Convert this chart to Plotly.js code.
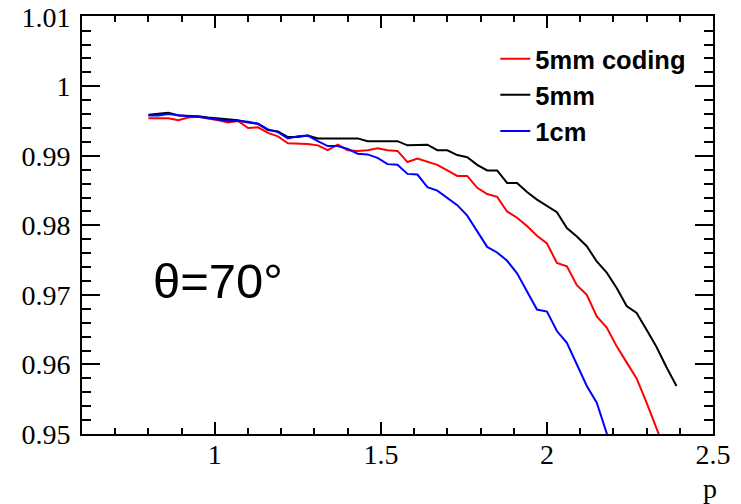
<!DOCTYPE html>
<html>
<head>
<meta charset="utf-8">
<script src="https://cdn.plot.ly/plotly-3.0.1.min.js"></script>
<style>html,body{margin:0;padding:0;background:#fff;}#chart{width:741px;height:504px;}</style>
</head>
<body>
<div id="chart"></div>
<script>
const p = [0.80,0.83,0.86,0.89,0.92,0.95,0.98,1.01,1.04,1.07,1.10,1.13,1.16,1.19,1.22,1.25,1.28,1.31,1.34,1.37,1.40,1.43,1.46,1.49,1.52,1.55,1.58,1.61,1.64,1.67,1.70,1.73,1.76,1.79,1.82,1.85,1.88,1.91,1.94,1.97,2.00,2.03,2.06,2.09,2.12,2.15,2.18,2.21,2.24,2.27,2.30,2.33,2.36,2.39];

const eff5mmCoding = [0.9954,0.9954,0.9954,0.9951,0.9955,0.9956,0.9954,0.9951,0.9948,0.9950,
  0.9940,0.9941,0.9933,0.9928,0.9918,0.9918,0.9917,0.9915,0.9908,0.9916,
  0.9908,0.9907,0.9908,0.9911,0.9908,0.9907,0.9891,0.9896,0.9891,0.9887,
  0.9879,0.9871,0.9871,0.9854,0.9845,0.9841,0.9820,0.9811,0.9799,0.9785,
  0.9774,0.9746,0.9741,0.9714,0.9700,0.9669,0.9653,0.9626,0.9603,0.9580,
  0.9545,0.9506,0.9471,0.9436];

const eff5mm = [0.9959,0.9960,0.9962,0.9958,0.9958,0.9957,0.9955,0.9954,0.9953,0.9951,
  0.9948,0.9946,0.9937,0.9935,0.9927,0.9927,0.9929,0.9925,0.9925,0.9925,
  0.9926,0.9925,0.9921,0.9921,0.9921,0.9921,0.9915,0.9916,0.9916,0.9908,
  0.9908,0.9901,0.9898,0.9887,0.9879,0.9879,0.9861,0.9861,0.9848,0.9837,
  0.9828,0.9819,0.9796,0.9784,0.9770,0.9748,0.9732,0.9710,0.9684,0.9674,
  0.9650,0.9625,0.9596,0.9569];

const eff1cm = [0.9958,0.9958,0.9960,0.9958,0.9957,0.9956,0.9954,0.9953,0.9950,0.9950,
  0.9949,0.9946,0.9938,0.9934,0.9925,0.9928,0.9929,0.9921,0.9914,0.9914,
  0.9910,0.9903,0.9902,0.9897,0.9888,0.9887,0.9874,0.9873,0.9855,0.9850,
  0.9839,0.9829,0.9814,0.9792,0.9769,0.9761,0.9749,0.9731,0.9705,0.9679,
  0.9676,0.9648,0.9631,0.9599,0.9569,0.9545,0.9503,0.9457];

const seriesNames = ['5mm coding','5mm','1cm'];
const seriesColors = ['#ff0000','#000000','#0000ff'];
const xTitle = 'p';
const thetaLabel = 'θ=70°';

const ys = [eff5mmCoding, eff5mm, eff1cm];
const traces = ys.map((y, i) => ({
  x: p.slice(0, y.length),
  y: y,
  type: 'scatter',
  mode: 'lines',
  name: seriesNames[i],
  legendgroup: 'g' + i,
  line: {color: seriesColors[i], width: 2},
  hoverinfo: 'skip'
}));

const serif = 'Times New Roman, Liberation Serif, DejaVu Serif, serif';
const sans = 'Liberation Sans, Arial, sans-serif';

const layout = {
  width: 741, height: 504,
  margin: {l: 82, r: 28, t: 16, b: 70, pad: 0},
  paper_bgcolor: '#ffffff',
  plot_bgcolor: '#ffffff',
  font: {family: serif, size: 28, color: '#000'},
  showlegend: true,
  legend: {
    x: 0.655, y: 0.953, xanchor: 'left', yanchor: 'top',
    bgcolor: 'rgba(255,255,255,0)',
    font: {family: sans, size: 25.5, color: '#000', weight: 'bold'},
    tracegroupgap: 0,
    itemwidth: 30
  },
  xaxis: {
    range: [0.6, 2.5],
    tickmode: 'linear', tick0: 0, dtick: 0.5,
    ticks: 'inside', ticklen: 12, tickwidth: 2, tickcolor: '#000',
    showline: true, linecolor: '#000', linewidth: 2, mirror: 'allticks',
    showgrid: false, zeroline: false,
    tickfont: {family: serif, size: 28, color: '#000'},
    ticklabelstandoff: -6,
    ticklabeloverflow: 'allow',
    minor: {dtick: 0.1, tick0: 0, ticks: 'inside', ticklen: 6, tickwidth: 2, tickcolor: '#000', showgrid: false}
  },
  yaxis: {
    range: [0.95, 1.0101],
    tickmode: 'linear', tick0: 0.95, dtick: 0.01,
    ticks: 'inside', ticklen: 18, tickwidth: 2, tickcolor: '#000',
    showline: true, linecolor: '#000', linewidth: 2, mirror: 'allticks',
    showgrid: false, zeroline: false,
    tickfont: {family: serif, size: 28, color: '#000'},
    ticklabelstandoff: 4,
    ticklabeloverflow: 'allow',
    minor: {dtick: 0.002, tick0: 0.95, ticks: 'inside', ticklen: 9, tickwidth: 2, tickcolor: '#000', showgrid: false}
  },
  annotations: [
    {text: thetaLabel, xref: 'paper', yref: 'paper', x: 0.2155, y: 0.366,
     xanchor: 'center', yanchor: 'middle', showarrow: false,
     font: {family: sans, size: 49, color: '#000'}},
    {text: xTitle, xref: 'paper', yref: 'paper', x: 0.995, y: -0.13,
     xanchor: 'center', yanchor: 'middle', showarrow: false,
     font: {family: serif, size: 28, color: '#000'}}
  ]
};

Plotly.newPlot('chart', traces, layout, {staticPlot: true, displayModeBar: false});
</script>
</body>
</html>
